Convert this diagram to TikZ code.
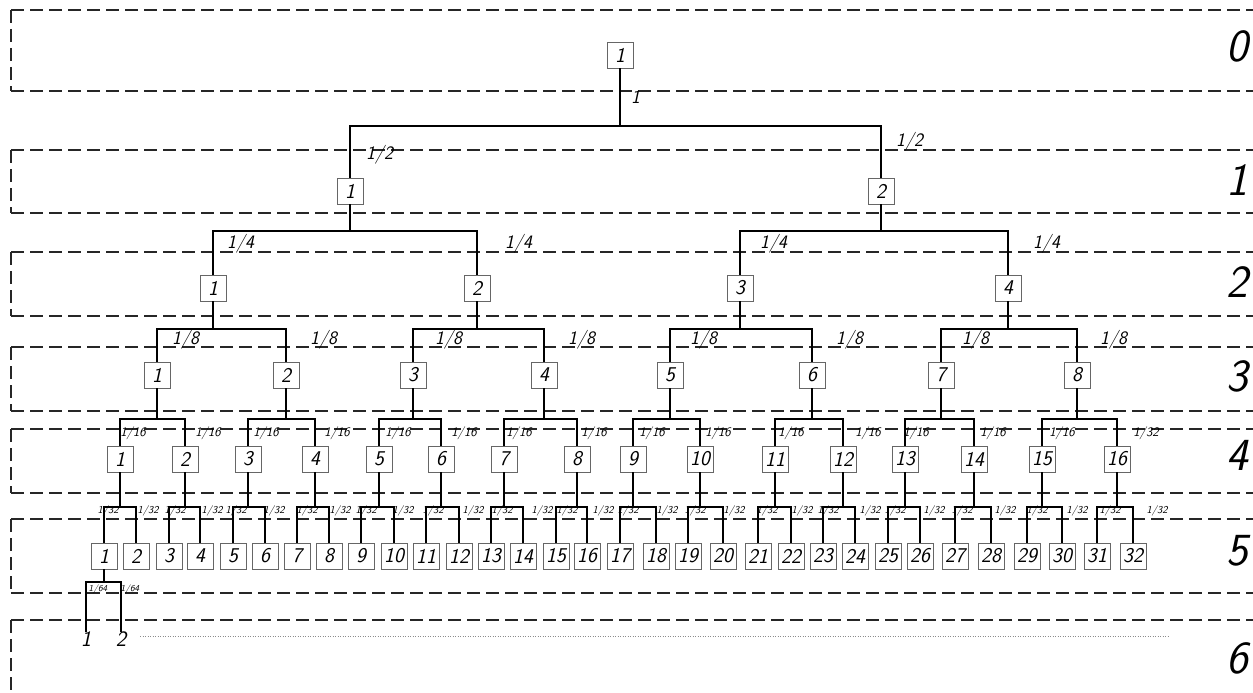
\documentclass[tikz,border=0pt]{standalone}
\usepackage{fontspec}
\usetikzlibrary{calc}
\begin{document}
\begin{tikzpicture}[x=1pt,y=-1pt,
  band/.style={line width=1.3pt,dash pattern=on 13pt off 6pt,black!85},
  conn/.style={line width=1.6pt,black},
  box/.style={draw=black!60,line width=0.8pt,minimum width=26pt,minimum height=26pt,inner sep=0pt,font=\fontsize{21}{21}\selectfont\sffamily\itshape},
  lvl/.style={inner sep=0pt,font=\fontsize{46}{46}\selectfont\sffamily\itshape},
  fA/.style={inner sep=0pt,font=\fontsize{19}{19}\selectfont\sffamily\itshape},
  fB/.style={inner sep=0pt,font=\fontsize{13}{13}\selectfont\sffamily\itshape},
  fC/.style={inner sep=0pt,font=\fontsize{10.5}{10.5}\selectfont\sffamily\itshape},
  fD/.style={inner sep=0pt,font=\fontsize{9}{9}\selectfont\sffamily\itshape},
  endnum/.style={inner sep=0pt,anchor=north,font=\fontsize{22}{22}\selectfont\sffamily\itshape},
  dots/.style={black!45,line width=0.7pt,dash pattern=on 1pt off 1.5pt}
]
\useasboundingbox (0,0) rectangle (1253,693);

% level bands
\foreach \t/\b in {10/91,150/213,252/316,347/411,429/493,519/593}{
  \draw[band] (11,\t) -- (1253,\t);
  \draw[band] (11,\t) -- (11,\b);
  \draw[band] (11,\b) -- (1253,\b);
}
\draw[band] (11,620) -- (1253,620);
\draw[band] (11,620) -- (11,693);

% level numbers
\foreach \n/\y in {0/46,1/180,2/282,3/376,4/455,5/551,6/658}
  \node[lvl] (lv\n) at (1237,\y) {\n};

% boxes
\node[box] (n1) at (620,55) {1};
\foreach \i/\x in {1/350,2/881} \node[box] (a\i) at (\x,191) {\i};
\foreach \i/\x in {1/213,2/477,3/740,4/1008} \node[box] (b\i) at (\x,288) {\i};
\foreach \i/\x in {1/157,2/286,3/413,4/544,5/670,6/812,7/941,8/1077} \node[box] (c\i) at (\x,375) {\i};
\foreach \i/\x in {1/120,2/185,3/248,4/315,5/379,6/441,7/504,8/577,9/633,10/700,11/775,12/843,13/905,14/974,15/1042,16/1117}
  \node[box] (d\i) at (\x,459) {\i};
\foreach \i/\x in {1/104,2/136,3/169,4/200,5/233,6/265,7/297,8/329,9/361,10/394,11/426,12/459,13/491,14/523,15/556,16/587,17/620,18/656,19/688,20/723,21/758,22/791,23/823,24/855,25/888,26/920,27/955,28/991,29/1027,30/1062,31/1097,32/1133}
  \node[box] (e\i) at (\x,556) {\i};

% bus levels
\coordinate (yA) at (0,126);
\coordinate (yB) at (0,231);
\coordinate (yC) at (0,329);
\coordinate (yD) at (0,419);
\coordinate (yE) at (0,507);
\coordinate (yF) at (0,582);

% connectors
\draw[conn] (n1.south) -- (n1.south |- yA);
\draw[conn] (a1.north) -- (a1.north |- yA) -- (a2.north |- yA) -- (a2.north);
\foreach \p in {1,2}{
  \pgfmathtruncatemacro\l{2*\p-1}\pgfmathtruncatemacro\r{2*\p}
  \draw[conn] (a\p.south) -- (a\p.south |- yB);
  \draw[conn] (b\l.north) -- (b\l.north |- yB) -- (b\r.north |- yB) -- (b\r.north);
}
\foreach \p in {1,...,4}{
  \pgfmathtruncatemacro\l{2*\p-1}\pgfmathtruncatemacro\r{2*\p}
  \draw[conn] (b\p.south) -- (b\p.south |- yC);
  \draw[conn] (c\l.north) -- (c\l.north |- yC) -- (c\r.north |- yC) -- (c\r.north);
}
\foreach \p in {1,...,8}{
  \pgfmathtruncatemacro\l{2*\p-1}\pgfmathtruncatemacro\r{2*\p}
  \draw[conn] (c\p.south) -- (c\p.south |- yD);
  \draw[conn] (d\l.north) -- (d\l.north |- yD) -- (d\r.north |- yD) -- (d\r.north);
}
\foreach \p in {1,...,16}{
  \pgfmathtruncatemacro\l{2*\p-1}\pgfmathtruncatemacro\r{2*\p}
  \draw[conn] (d\p.south) -- (d\p.south |- yE);
  \draw[conn] (e\l.north) -- (e\l.north |- yE) -- (e\r.north |- yE) -- (e\r.north);
}

% level 6 outputs
\node[endnum] (f1) at (86,632) {1};
\node[endnum] (f2) at (121,632) {2};
\draw[conn] (e1.south) -- (e1.south |- yF);
\draw[conn] (f1.north) -- (f1.north |- yF) -- (f2.north |- yF) -- (f2.north);
\coordinate (dotS) at (140,636);
\coordinate (dotE) at (1168,636);
\draw[dots] (dotS) -- (dotE);

% fraction labels
\node[fA,anchor=west] (lb0) at (631,97) {1};
\node[fA,anchor=west] (lb1a) at (366,155) {1/2};
\node[fA,anchor=west] (lb1b) at (896,142) {1/2};
\foreach \x [count=\i] in {227,505,760,1033}
  \node[fA,anchor=west] (lb2\i) at (\x,244) {1/4};
\foreach \x [count=\i] in {172,310,435,568,690,836,962,1100}
  \node[fA,anchor=west] (lb3\i) at (\x,340) {1/8};
\foreach \x [count=\i] in {133,208,266,337,398,464,519,594,652,718,791,868,916,993,1062}
  \node[fB] (lb4\i) at (\x,433) {1/16};
\node[fB] (lb416) at (1146,433) {1/32};
\foreach \x [count=\i] in {108,148,175,212,236,274,307,340,366,403,433,473,502,542,567,603,628,667,695,734,767,802,828,870,895,934,962,1005,1037,1077,1110,1157}
  \node[fC] (lb5\i) at (\x,511) {1/32};
\node[fD] (lb61) at (98,589) {1/64};
\node[fD] (lb62) at (130,589) {1/64};
\end{tikzpicture}
\end{document}
